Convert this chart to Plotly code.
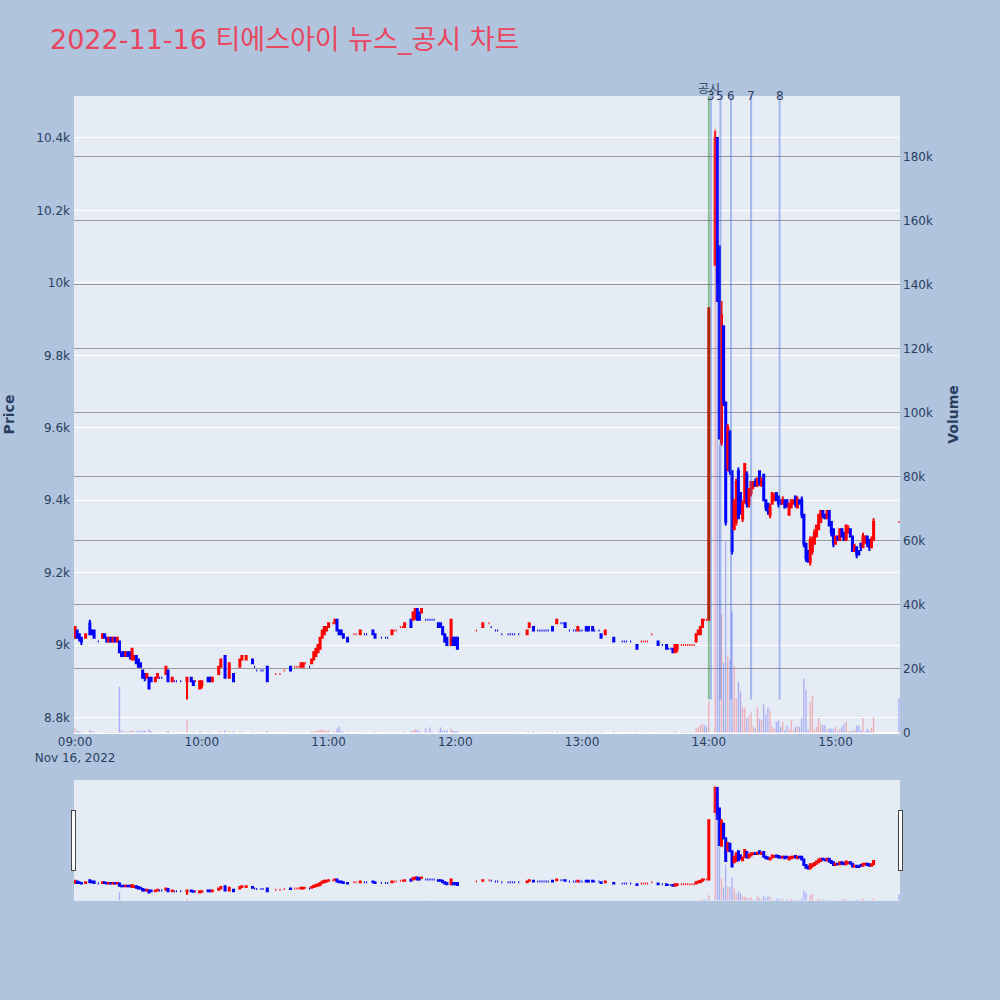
import pandas as pd
import plotly.graph_objects as go
from plotly.subplots import make_subplots

trade_date = "2022-11-16"
stock_name = "티에스아이"

# 1분봉 (거래 없는 분은 빠져 있음)
times = [
    # 09시
    "09:00", "09:01", "09:02", "09:03", "09:05", "09:07", "09:08", "09:09", "09:11", "09:13", "09:14", "09:15",
    "09:16", "09:17", "09:18", "09:19", "09:20", "09:21", "09:22", "09:23", "09:24", "09:25", "09:26", "09:27",
    "09:28", "09:29", "09:30", "09:31", "09:32", "09:33", "09:34", "09:35", "09:36", "09:38", "09:39", "09:40",
    "09:41", "09:43", "09:44", "09:46", "09:47", "09:48", "09:50", "09:53", "09:55", "09:56", "09:57", "09:59",
    # 10시
    "10:00", "10:03", "10:04", "10:05", "10:08", "10:09", "10:11", "10:13", "10:15", "10:18", "10:19", "10:21",
    "10:24", "10:25", "10:26", "10:28", "10:29", "10:31", "10:35", "10:37", "10:39", "10:42", "10:44", "10:45",
    "10:46", "10:47", "10:48", "10:49", "10:51", "10:52", "10:53", "10:54", "10:55", "10:56", "10:57", "10:58",
    "10:59",
    # 11시
    "11:00", "11:02", "11:03", "11:04", "11:05", "11:06", "11:07", "11:09", "11:12", "11:13", "11:15", "11:17",
    "11:18", "11:21", "11:22", "11:25", "11:27", "11:28", "11:30", "11:31", "11:32", "11:34", "11:35", "11:36",
    "11:39", "11:40", "11:41", "11:42", "11:43", "11:44", "11:46", "11:47", "11:48", "11:49", "11:50", "11:52",
    "11:53", "11:54", "11:55", "11:56", "11:58", "11:59",
    # 12시
    "12:00", "12:01", "12:10", "12:13", "12:16", "12:17", "12:19", "12:20", "12:22", "12:25", "12:26", "12:27",
    "12:28", "12:30", "12:34", "12:35", "12:37", "12:39", "12:40", "12:41", "12:42", "12:43", "12:44", "12:46",
    "12:48", "12:50", "12:51", "12:52", "12:54", "12:56", "12:57", "12:58", "12:59",
    # 13시
    "13:00", "13:02", "13:03", "13:05", "13:06", "13:08", "13:09", "13:11", "13:15", "13:19", "13:20", "13:21",
    "13:23", "13:26", "13:28", "13:29", "13:30", "13:31", "13:33", "13:36", "13:38", "13:40", "13:41", "13:42",
    "13:43", "13:44", "13:45", "13:47", "13:48", "13:49", "13:50", "13:51", "13:52", "13:53", "13:54", "13:55",
    "13:56", "13:57", "13:58", "13:59",
    # 14시
    "14:00", "14:03", "14:04", "14:05", "14:06", "14:07", "14:08", "14:09", "14:10", "14:11", "14:12", "14:13",
    "14:14", "14:15", "14:16", "14:17", "14:18", "14:19", "14:20", "14:21", "14:22", "14:23", "14:24", "14:25",
    "14:26", "14:27", "14:28", "14:29", "14:30", "14:31", "14:32", "14:33", "14:34", "14:35", "14:36", "14:37",
    "14:38", "14:39", "14:40", "14:41", "14:42", "14:43", "14:44", "14:45", "14:46", "14:47", "14:48", "14:49",
    "14:50", "14:51", "14:52", "14:53", "14:54", "14:55", "14:56", "14:57", "14:58", "14:59",
    # 15시
    "15:00", "15:01", "15:02", "15:03", "15:04", "15:05", "15:06", "15:07", "15:08", "15:09", "15:10", "15:11",
    "15:12", "15:13", "15:14", "15:15", "15:16", "15:17", "15:18", "15:30",
]

opens = [
    9020, 9040, 9030, 9020, 9020, 9060, 9040, 9040, 9010, 9020, 9030, 9020,
    9010, 9020, 9010, 9020, 9010, 9010, 8980, 8980, 8970, 8980, 8980, 8960,
    8960, 8970, 8960, 8950, 8930, 8920, 8910, 8910, 8910, 8900, 8910, 8910,
    8910, 8920, 8930, 8900, 8900, 8900, 8900, 8900, 8910, 8900, 8900, 8880,
    8890, 8910, 8910, 8900, 8920, 8940, 8970, 8910, 8920, 8940, 8960, 8960,
    8960, 8940, 8930, 8930, 8930, 8940, 8920, 8920, 8930, 8940, 8940, 8940,
    8940, 8940, 8940, 8950, 8940, 8950, 8960, 8970, 8980, 8990, 9020, 9030,
    9040,
    9050, 9060, 9060, 9070, 9040, 9040, 9030, 9020, 9030, 9030, 9030, 9030,
    9030, 9040, 9030, 9020, 9020, 9020, 9030, 9040, 9040, 9050, 9050, 9050,
    9070, 9070, 9080, 9100, 9090, 9090, 9070, 9070, 9070, 9070, 9070, 9060,
    9060, 9050, 9030, 9020, 9000, 9020,
    9020, 9020, 9040, 9050, 9060, 9050, 9040, 9040, 9030, 9030, 9030, 9030,
    9030, 9030, 9030, 9050, 9050, 9040, 9040, 9040, 9040, 9040, 9040, 9050,
    9060, 9060, 9060, 9060, 9040, 9040, 9040, 9040, 9040,
    9040, 9050, 9050, 9050, 9040, 9040, 9030, 9030, 9020, 9010, 9010, 9010,
    9010, 9000, 9010, 9010, 9010, 9010, 9030, 9010, 9000, 9000, 8990, 8990,
    8990, 8980, 8990, 9000, 9000, 9000, 9000, 9000, 9000, 9000, 9010, 9030,
    9030, 9050, 9070, 9070,
    9070, 10050, 10400, 10100, 9560, 9880, 9670, 9490, 9590, 9480, 9320, 9340,
    9480, 9420, 9350, 9400, 9470, 9390, 9420, 9440, 9450, 9440, 9480, 9440,
    9470, 9400, 9390, 9360, 9390, 9400, 9420, 9410, 9400, 9390, 9400, 9400,
    9360, 9380, 9390, 9410, 9380, 9400, 9400, 9360, 9280, 9260, 9230, 9260,
    9280, 9300, 9320, 9340, 9370, 9360, 9350, 9370, 9340, 9320,
    9280, 9300, 9290, 9320, 9310, 9290, 9310, 9320, 9300, 9260, 9270, 9260,
    9280, 9270, 9290, 9300, 9290, 9270, 9290, 9340,
]

highs = [
    9050, 9040, 9030, 9020, 9030, 9070, 9040, 9040, 9010, 9030, 9030, 9020,
    9020, 9020, 9020, 9020, 9020, 9010, 8980, 8980, 8980, 8980, 8980, 8990,
    8970, 8970, 8960, 8950, 8930, 8920, 8920, 8910, 8910, 8910, 8920, 8910,
    8910, 8940, 8930, 8910, 8900, 8900, 8900, 8910, 8910, 8900, 8900, 8900,
    8900, 8910, 8910, 8910, 8940, 8960, 8970, 8950, 8920, 8960, 8970, 8970,
    8960, 8940, 8930, 8930, 8930, 8940, 8920, 8920, 8930, 8940, 8940, 8940,
    8940, 8950, 8950, 8950, 8940, 8960, 8980, 8990, 9000, 9020, 9040, 9050,
    9050,
    9060, 9060, 9070, 9070, 9040, 9040, 9030, 9020, 9030, 9030, 9040, 9030,
    9030, 9040, 9030, 9020, 9020, 9020, 9040, 9040, 9040, 9050, 9050, 9060,
    9070, 9090, 9100, 9100, 9090, 9100, 9070, 9070, 9070, 9070, 9070, 9060,
    9060, 9050, 9030, 9020, 9070, 9020,
    9020, 9020, 9040, 9060, 9060, 9050, 9040, 9040, 9030, 9030, 9030, 9030,
    9030, 9030, 9040, 9060, 9050, 9040, 9040, 9040, 9040, 9040, 9040, 9050,
    9070, 9060, 9060, 9060, 9040, 9040, 9040, 9050, 9040,
    9040, 9050, 9050, 9050, 9040, 9040, 9030, 9040, 9020, 9010, 9010, 9010,
    9010, 9000, 9010, 9010, 9010, 9010, 9030, 9010, 9000, 9000, 8990, 8990,
    8990, 9000, 9000, 9000, 9000, 9000, 9000, 9000, 9000, 9000, 9030, 9040,
    9050, 9070, 9070, 9070,
    9930, 10420, 10400, 10100, 9950, 9880, 9670, 9610, 9590, 9480, 9400, 9460,
    9490, 9420, 9400, 9500, 9480, 9430, 9450, 9450, 9460, 9460, 9480, 9460,
    9470, 9400, 9390, 9390, 9420, 9420, 9420, 9410, 9400, 9410, 9400, 9400,
    9390, 9400, 9400, 9410, 9410, 9400, 9410, 9360, 9280, 9260, 9300, 9300,
    9320, 9330, 9360, 9370, 9370, 9360, 9370, 9370, 9340, 9320,
    9300, 9300, 9320, 9320, 9310, 9330, 9330, 9320, 9300, 9280, 9270, 9260,
    9280, 9310, 9300, 9300, 9290, 9300, 9350, 9340,
]

lows = [
    9020, 9020, 9010, 9000, 9020, 9030, 9030, 9020, 9010, 9020, 9020, 9010,
    9010, 9010, 9010, 9010, 9010, 8980, 8970, 8970, 8970, 8970, 8960, 8960,
    8960, 8950, 8940, 8940, 8910, 8900, 8910, 8880, 8900, 8900, 8910, 8910,
    8910, 8920, 8900, 8900, 8900, 8900, 8900, 8850, 8900, 8890, 8900, 8880,
    8880, 8900, 8900, 8900, 8920, 8940, 8910, 8910, 8900, 8940, 8960, 8960,
    8950, 8940, 8930, 8930, 8930, 8900, 8920, 8920, 8930, 8930, 8940, 8940,
    8940, 8940, 8940, 8950, 8940, 8950, 8960, 8970, 8980, 8990, 9020, 9030,
    9040,
    9050, 9060, 9060, 9040, 9030, 9030, 9020, 9010, 9030, 9030, 9030, 9030,
    9030, 9030, 9020, 9020, 9020, 9020, 9030, 9040, 9040, 9050, 9050, 9050,
    9050, 9070, 9070, 9070, 9070, 9090, 9070, 9070, 9070, 9070, 9070, 9050,
    9050, 9030, 9010, 9000, 9000, 9000,
    9000, 8990, 9040, 9050, 9060, 9050, 9040, 9040, 9030, 9030, 9030, 9030,
    9030, 9030, 9030, 9050, 9040, 9040, 9040, 9040, 9040, 9040, 9040, 9040,
    9060, 9060, 9060, 9050, 9040, 9040, 9040, 9040, 9040,
    9040, 9040, 9040, 9040, 9040, 9040, 9020, 9030, 9010, 9010, 9010, 9010,
    9010, 8990, 9010, 9010, 9010, 9010, 9030, 9000, 9000, 8990, 8990, 8990,
    8980, 8980, 8980, 9000, 9000, 9000, 9000, 9000, 9000, 9000, 9010, 9030,
    9030, 9050, 9070, 9070,
    9070, 10050, 9950, 9570, 9550, 9660, 9330, 9480, 9470, 9250, 9320, 9330,
    9350, 9360, 9340, 9390, 9380, 9380, 9410, 9430, 9440, 9440, 9440, 9440,
    9400, 9370, 9360, 9350, 9390, 9400, 9400, 9380, 9390, 9390, 9380, 9380,
    9360, 9380, 9390, 9380, 9380, 9390, 9350, 9270, 9230, 9230, 9220, 9250,
    9280, 9300, 9320, 9340, 9350, 9350, 9350, 9330, 9300, 9270,
    9280, 9290, 9290, 9300, 9290, 9290, 9310, 9300, 9260, 9260, 9240, 9250,
    9260, 9270, 9280, 9270, 9260, 9270, 9290, 9340,
]

closes = [
    9050, 9020, 9020, 9010, 9030, 9030, 9030, 9020, 9010, 9030, 9020, 9010,
    9020, 9010, 9020, 9010, 9020, 8980, 8970, 8970, 8980, 8970, 8970, 8990,
    8970, 8950, 8940, 8940, 8910, 8910, 8920, 8880, 8900, 8910, 8920, 8910,
    8910, 8940, 8900, 8910, 8900, 8900, 8900, 8910, 8900, 8890, 8900, 8900,
    8900, 8900, 8900, 8910, 8940, 8960, 8910, 8950, 8900, 8960, 8970, 8970,
    8950, 8940, 8930, 8930, 8930, 8900, 8920, 8920, 8930, 8930, 8940, 8940,
    8940, 8950, 8950, 8950, 8940, 8960, 8980, 8990, 9000, 9020, 9040, 9050,
    9050,
    9060, 9060, 9070, 9040, 9030, 9030, 9020, 9010, 9030, 9030, 9040, 9030,
    9030, 9030, 9020, 9020, 9020, 9020, 9040, 9040, 9040, 9050, 9050, 9060,
    9050, 9090, 9100, 9070, 9070, 9100, 9070, 9070, 9070, 9070, 9070, 9050,
    9050, 9030, 9010, 9000, 9070, 9000,
    9000, 8990, 9040, 9060, 9060, 9050, 9040, 9040, 9030, 9030, 9030, 9030,
    9030, 9030, 9040, 9060, 9040, 9040, 9040, 9040, 9040, 9040, 9040, 9040,
    9070, 9060, 9060, 9050, 9040, 9040, 9040, 9050, 9040,
    9040, 9040, 9040, 9040, 9040, 9040, 9020, 9040, 9010, 9010, 9010, 9010,
    9010, 8990, 9010, 9010, 9010, 9010, 9030, 9000, 9000, 8990, 8990, 8990,
    8980, 9000, 9000, 9000, 9000, 9000, 9000, 9000, 9000, 9000, 9030, 9040,
    9050, 9070, 9070, 9070,
    9930, 10400, 9950, 9570, 9910, 9670, 9340, 9600, 9480, 9260, 9400, 9450,
    9350, 9370, 9390, 9500, 9390, 9430, 9450, 9450, 9440, 9460, 9450, 9460,
    9400, 9380, 9370, 9380, 9420, 9410, 9400, 9390, 9390, 9400, 9380, 9390,
    9390, 9400, 9400, 9390, 9400, 9390, 9360, 9280, 9240, 9230, 9290, 9290,
    9310, 9330, 9360, 9370, 9360, 9350, 9370, 9330, 9310, 9280,
    9300, 9290, 9320, 9300, 9290, 9330, 9320, 9300, 9260, 9270, 9250, 9250,
    9270, 9300, 9300, 9280, 9270, 9290, 9340, 9340,
]

volumes = [
    1500, 800, 600, 500, 400, 900, 500, 400, 100, 300, 200, 300,
    200, 300, 400, 200, 300, 14500, 800, 500, 400, 500, 600, 900,
    400, 600, 700, 500, 900, 800, 300, 1200, 600, 200, 200, 100,
    100, 500, 700, 200, 150, 150, 100, 4000, 300, 400, 100, 600,
    500, 300, 200, 150, 400, 600, 900, 700, 500, 500, 400, 150,
    300, 100, 100, 100, 100, 600, 100, 100, 100, 300, 100, 100,
    100, 300, 200, 100, 100, 400, 600, 700, 800, 1200, 1000, 900,
    700,
    800, 200, 500, 1500, 2000, 600, 400, 300, 100, 100, 300, 100,
    100, 300, 200, 100, 100, 100, 300, 100, 100, 100, 100, 400,
    600, 800, 1200, 1000, 500, 200, 1500, 300, 1800, 300, 200, 500,
    1800, 700, 800, 1000, 1500, 800,
    600, 700, 100, 300, 100, 100, 100, 100, 100, 100, 100, 100,
    100, 100, 200, 500, 400, 100, 100, 100, 100, 100, 100, 300,
    400, 100, 100, 200, 100, 100, 100, 100, 100,
    100, 300, 200, 200, 100, 100, 300, 200, 400, 100, 100, 100,
    100, 300, 100, 100, 100, 100, 100, 300, 100, 200, 100, 100,
    200, 400, 300, 200, 200, 200, 200, 200, 200, 200, 1500, 1800,
    2500, 3000, 2500, 2000,
    10000, 189000, 140000, 90000, 37000, 22000, 60000, 24000, 23000, 38000, 21000, 11000,
    16000, 13000, 8000, 8000, 4800, 5400, 6500, 2000, 1500, 8000, 4500, 4000,
    9000, 5800, 8000, 7000, 2000, 1500, 3600, 4000, 2000, 3600, 1000, 2400,
    1300, 4000, 1000, 2000, 2000, 2000, 4700, 17000, 13500, 1200, 9500, 11800,
    1000, 2000, 4700, 2700, 2500, 2500, 1200, 1500, 1500, 1300,
    2000, 700, 1300, 2000, 2700, 3600, 700, 500, 700, 1000, 2400, 2400,
    1000, 4700, 500, 1300, 700, 1800, 5000, 11000,
]

# 뉴스/공시 시각
news_times = ["14:00:00", "14:01:00", "14:05:30", "14:10:30", "14:20:00", "14:33:30"]
news_labels = ["공시", "3", "5", "6", "7", "8"]

assert len(times) == len(opens) == len(highs) == len(lows) == len(closes) == len(volumes)

x = pd.to_datetime([trade_date + " " + t for t in times])

fig = make_subplots(specs=[[{"secondary_y": True}]])

fig.add_trace(go.Candlestick(
    x=x, open=opens, high=highs, low=lows, close=closes,
    increasing=dict(line=dict(color="red"), fillcolor="red"),
    decreasing=dict(line=dict(color="blue"), fillcolor="blue"),
    name="가격", showlegend=False
), secondary_y=False)

vol_colors = ["red" if c > o else "blue" for o, c in zip(opens, closes)]
fig.add_trace(go.Bar(
    x=x, y=volumes, marker_color=vol_colors, opacity=0.3,
    name="거래량", showlegend=False
), secondary_y=True)

# 가격축 범위 (위아래 여백)
low_min = min(lows)
high_max = max(highs)
span = high_max - low_min
y_lo = low_min - span * 0.059
y_hi = high_max + span * 0.061

# 뉴스/공시 세로선 + 번호
for t, label in zip(news_times, news_labels):
    nt = pd.Timestamp(trade_date + " " + t)
    gongsi = label == "공시"
    fig.add_shape(type="line", xref="x", yref="y", x0=nt, x1=nt, y0=low_min, y1=y_hi,
                  line=dict(color="rgba(0,128,0,0.4)" if gongsi else "rgba(65,105,225,0.4)", width=2))
    fig.add_annotation(x=nt, xref="x", y=1, yref="paper", text=label, showarrow=False,
                       yanchor="bottom" if gongsi else "middle", yshift=-2 if gongsi else 0,
                       font=dict(size=12, color="#2a3f5f"))

fig.update_layout(
    width=1000, height=1000,
    title=dict(text=f"{trade_date} {stock_name} 뉴스_공시 차트",
               x=0.05, xanchor="left", y=0.96, yanchor="middle",
               font=dict(size=27, color="#E8475F")),
    font=dict(family="DejaVu Sans, Noto Sans CJK KR", size=12),
    paper_bgcolor="lightsteelblue",
    margin=dict(l=74, r=100, t=96, b=100),
    showlegend=False,
)
fig.update_xaxes(domain=[0, 1], showgrid=False,
                 rangeslider=dict(visible=True, bgcolor="#E5ECF6", thickness=0.15))
fig.update_yaxes(title=dict(text="Price", font=dict(size=14, weight="bold"), standoff=18), automargin=False,
                 range=[y_lo, y_hi], dtick=200, ticklabelstandoff=3, secondary_y=False)
fig.update_yaxes(title=dict(text="Volume", font=dict(size=14, weight="bold"), standoff=16), automargin=False,
                 dtick=20000, gridcolor="#999999", ticklabelstandoff=2, secondary_y=True)

fig.write_html("out.html", config={"displayModeBar": False},
               post_script="document.body.style.margin = '0';")
